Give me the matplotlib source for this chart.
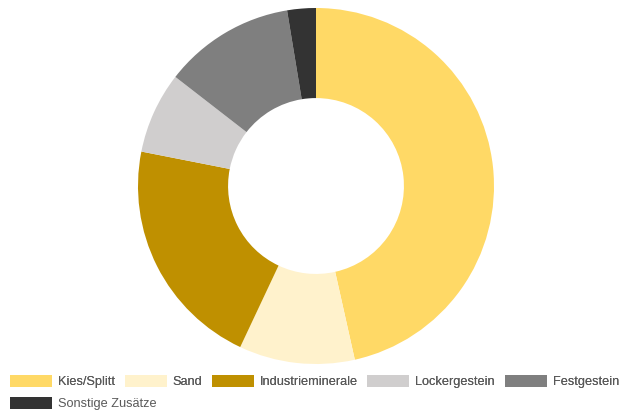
import matplotlib
matplotlib.use('Agg')
import matplotlib.pyplot as plt
from matplotlib.patches import Patch

# Anteile der Rohstoffgruppen in %
categories = ["Kies/Splitt", "Sand", "Industrieminerale", "Lockergestein",
              "Festgestein", "Sonstige Zusätze"]
shares = [46.5, 10.5, 21.1, 7.4, 11.9, 2.6]
colors = ["#FFD966", "#FFF2CC", "#BF9000", "#D0CECE", "#7F7F7F", "#333333"]

plt.rcParams['font.family'] = ['Liberation Sans', 'DejaVu Sans']

W, H = 621, 413
fig = plt.figure(figsize=(W / 100, H / 100), dpi=100)

# donut: center (316, 186) px, outer radius 178 px
cx, cy, r = 316, 186, 178
ax = fig.add_axes([(cx - r) / W, (H - cy - r) / H, 2 * r / W, 2 * r / H])
ax.pie(shares, colors=colors, startangle=90, counterclock=False,
       radius=1.0, wedgeprops=dict(width=0.506, linewidth=0))
ax.set_xlim(-1, 1)
ax.set_ylim(-1, 1)
ax.set_aspect('equal')
ax.axis('off')

# legend in two rows (flow layout)
fs = 9.15
px = fs * 100 / 72
handles = [Patch(facecolor=c, edgecolor='none') for c in colors]
leg_kw = dict(frameon=False, fontsize=fs, labelcolor="#595959",
              handlelength=42 / px, handleheight=13 / px, handletextpad=6 / px,
              columnspacing=9.5 / px, borderaxespad=0, borderpad=0)
leg1 = fig.legend(handles[:5], categories[:5], ncol=5, loc='center left',
                  bbox_to_anchor=(10 / W, 1 - 381.5 / H), **leg_kw)
fig.add_artist(leg1)
fig.legend(handles[5:], categories[5:], ncol=1, loc='center left',
           bbox_to_anchor=(10 / W, 1 - 403.5 / H), **leg_kw)

fig.savefig("out.png", dpi=100)
